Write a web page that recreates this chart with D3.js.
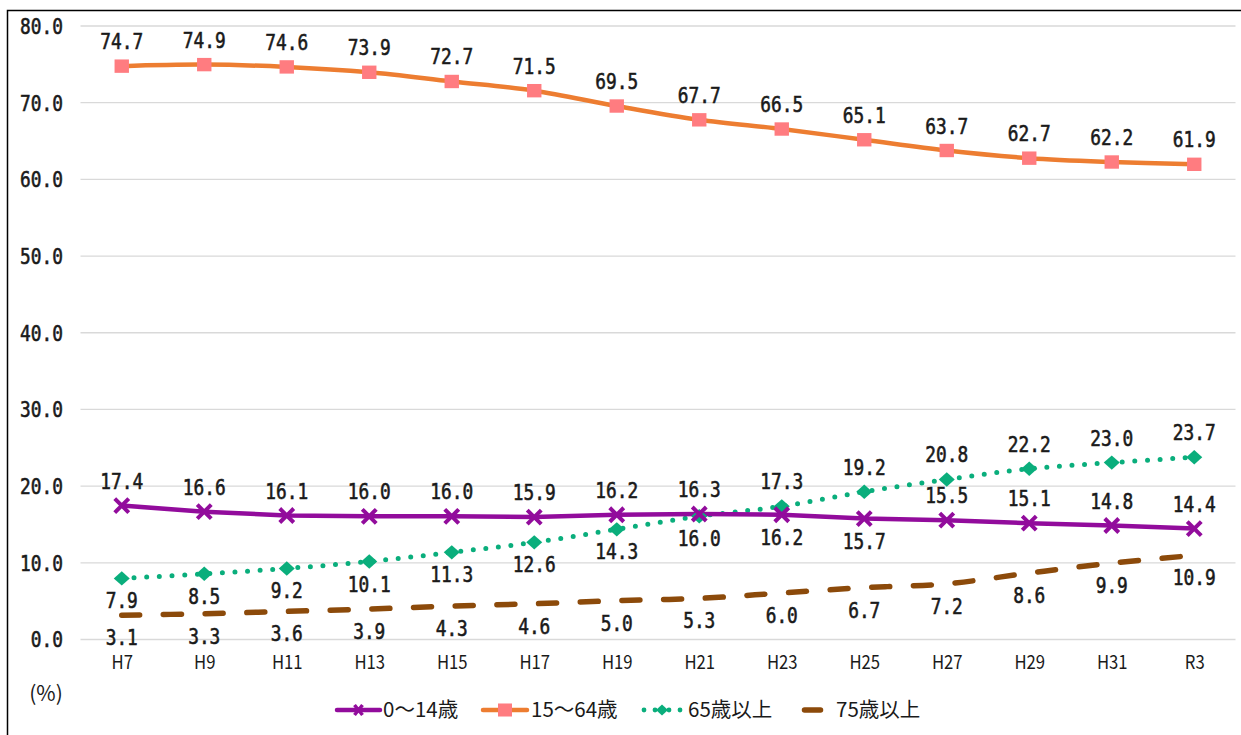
<!DOCTYPE html>
<html><head><meta charset="utf-8">
<script src="https://cdn.jsdelivr.net/npm/d3@7"></script>
<style>
html,body{margin:0;padding:0;background:#fff;}
svg{display:block;}
</style></head>
<body>
<svg id="chart" width="1241" height="735"></svg>
<script>
const categories = ["H7","H9","H11","H13","H15","H17","H19","H21","H23","H25","H27","H29","H31","R3"];
const seriesNames = ["0〜14歳","15〜64歳","65歳以上","75歳以上"];
const age0_14  = [17.4,16.6,16.1,16.0,16.0,15.9,16.2,16.3,16.2,15.7,15.5,15.1,14.8,14.4];
const age15_64 = [74.7,74.9,74.6,73.9,72.7,71.5,69.5,67.7,66.5,65.1,63.7,62.7,62.2,61.9];
const age65    = [7.9,8.5,9.2,10.1,11.3,12.6,14.3,16.0,17.3,19.2,20.8,22.2,23.0,23.7];
const age75    = [3.1,3.3,3.6,3.9,4.3,4.6,5.0,5.3,6.0,6.7,7.2,8.6,9.9,10.9];
const yTicks   = [0,10,20,30,40,50,60,70,80];

// label placement (a = above, b = below)
const place0_14  = ["a","a","a","a","a","a","a","a","b","b","a","a","a","a"];
const place15_64 = ["a","a","a","a","a","a","a","a","a","a","a","a","a","a"];
const place65    = ["b","b","b","b","b","b","b","b","a","a","a","a","a","a"];
const place75    = ["b","b","b","b","b","b","b","b","b","b","b","b","b","b"];

const svg = d3.select("#chart");
const SX = 0.81;
const numFont = "'DejaVu Sans Mono', monospace";
const jpFont = "'Noto Sans CJK JP', 'Noto Sans', sans-serif";
const txtCol = "#1a1a1a";

function numStyle(sel){
  sel.attr("font-family",numFont).attr("font-size",22).attr("fill",txtCol)
     .attr("stroke",txtCol).attr("stroke-width",0.6);
}

// border
svg.append("rect").attr("x",7.5).attr("y",10.5).attr("width",1250).attr("height",740)
  .attr("fill","none").attr("stroke","#000").attr("stroke-width",1.5);

const x = d3.scalePoint().domain(categories).range([80.5,1235.5]).padding(0.5);
const y = d3.scaleLinear().domain([0,80]).range([639,25.5]);

// gridlines + y axis
const yAxis = svg.append("g").attr("transform","translate(80.5,0)")
  .call(d3.axisLeft(y).tickValues(yTicks).tickSize(-1155).tickFormat(d3.format(".1f")));
yAxis.select(".domain").remove();
yAxis.selectAll(".tick line").attr("stroke","#d9d9d9").attr("stroke-width",1.3);
yAxis.selectAll(".tick text")
  .attr("x",-17.5/SX).attr("dy","0.36em")
  .attr("transform",`scale(${SX},1)`)
  .call(numStyle);

// x axis labels
const xAxis = svg.append("g").attr("transform","translate(0,639)")
  .call(d3.axisBottom(x).tickSize(0).tickPadding(0));
xAxis.select(".domain").remove();
xAxis.selectAll(".tick text")
  .attr("x",0).attr("y",30).attr("dy",null)
  .attr("transform","scale(0.88,1)")
  .attr("font-family",jpFont).attr("font-size",19).attr("fill",txtCol);

const series = [
  {name:seriesNames[0], vals:age0_14,  place:place0_14,  color:"#920c9c", width:4.5, dash:null, cap:"butt", marker:"x", curve:d3.curveLinear},
  {name:seriesNames[1], vals:age15_64, place:place15_64, color:"#ed7d31", width:4.5, dash:null, cap:"butt", marker:"sq", curve:d3.curveCatmullRom},
  {name:seriesNames[2], vals:age65,    place:place65,    color:"#0aae7c", width:5,   dash:"0 12.6", cap:"round", marker:"dia", curve:d3.curveCatmullRom},
  {name:seriesNames[3], vals:age75,    place:place75,    color:"#8c4a0a", width:5.5, dash:"18 23.7", cap:"round", marker:null, curve:d3.curveCatmullRom}
];

function drawMarker(g, type, color, s){
  if(type==="x"){
    g.append("path").attr("d",`M${-s},${-s}L${s},${s}M${-s},${s}L${s},${-s}`)
      .attr("stroke",color).attr("stroke-width",4).attr("fill","none");
  } else if(type==="sq"){
    g.append("rect").attr("x",-s).attr("y",-s*0.93).attr("width",2*s).attr("height",2*s*0.93)
      .attr("fill","#ff7c80");
  } else if(type==="dia"){
    g.append("path").attr("d",`M0,${-s*0.9}L${s},0L0,${s*0.9}L${-s},0Z`).attr("fill",color);
  }
}

const drawOrder = [3,2,1,0];
drawOrder.forEach(i=>{
  const s = series[i];
  const line = d3.line().x((d,j)=>x(categories[j])).y(d=>y(d)).curve(s.curve);
  svg.append("path").datum(s.vals).attr("d",line)
    .attr("fill","none").attr("stroke",s.color).attr("stroke-width",s.width)
    .attr("stroke-dasharray",s.dash).attr("stroke-linecap",s.cap);
});
drawOrder.forEach(i=>{
  const s = series[i];
  if(!s.marker) return;
  s.vals.forEach((v,j)=>{
    const g = svg.append("g").attr("transform",`translate(${x(categories[j])},${y(v)})`);
    const size = s.marker==="x" ? 7 : (s.marker==="dia" ? 8 : 7.2);
    drawMarker(g, s.marker, s.color, size);
  });
});

// data labels
series.forEach(s=>{
  s.vals.forEach((v,j)=>{
    const off = s.place[j]==="a" ? -17 : 30;
    svg.append("text")
      .attr("transform",`translate(${x(categories[j])},${y(v)+off}) scale(${SX},1)`)
      .attr("text-anchor","middle")
      .call(numStyle)
      .text(d3.format(".1f")(v));
  });
});

// unit
svg.append("text").attr("x",46).attr("y",701).attr("text-anchor","middle")
  .attr("font-family",jpFont).attr("font-size",21).attr("fill",txtCol).text("(%)");

// legend
const legendItems = [
  {s:series[0], x0:337, x1:380, tx:383},
  {s:series[1], x0:483, x1:527, tx:531},
  {s:series[2], x0:644, x1:680, tx:688},
  {s:series[3], x0:802, x1:823, tx:836}
];
const ly = 710;
legendItems.forEach(it=>{
  const s = it.s;
  const g = svg.append("g");
  const cx = (it.x0+it.x1)/2;
  if(s.marker==="dia"){
    [it.x0, it.x0+11, it.x1-11, it.x1].forEach(px=>g.append("circle").attr("cx",px).attr("cy",ly).attr("r",2.4).attr("fill",s.color));
    const m = g.append("g").attr("transform",`translate(${cx},${ly})`);
    drawMarker(m,"dia",s.color,6);
  } else if(s.marker===null){
    g.append("line").attr("x1",it.x0+2.5).attr("x2",it.x1-2.5).attr("y1",ly).attr("y2",ly)
      .attr("stroke",s.color).attr("stroke-width",5.5).attr("stroke-linecap","round");
  } else {
    g.append("line").attr("x1",it.x0).attr("x2",it.x1).attr("y1",ly).attr("y2",ly)
      .attr("stroke",s.color).attr("stroke-width",4.5).attr("stroke-linecap","round");
    const m = g.append("g").attr("transform",`translate(${cx},${ly})`);
    if(s.marker==="x"){
      m.append("path").attr("d","M-4,-5L4,5M-4,5L4,-5").attr("stroke",s.color).attr("stroke-width",3.5);
    } else drawMarker(m,s.marker,s.color,7);
  }
  g.append("text").attr("x",it.tx).attr("y",ly).attr("dy","0.36em")
    .attr("font-family",jpFont).attr("font-size",20.5).attr("fill",txtCol).text(s.name);
});
</script>
</body></html>
